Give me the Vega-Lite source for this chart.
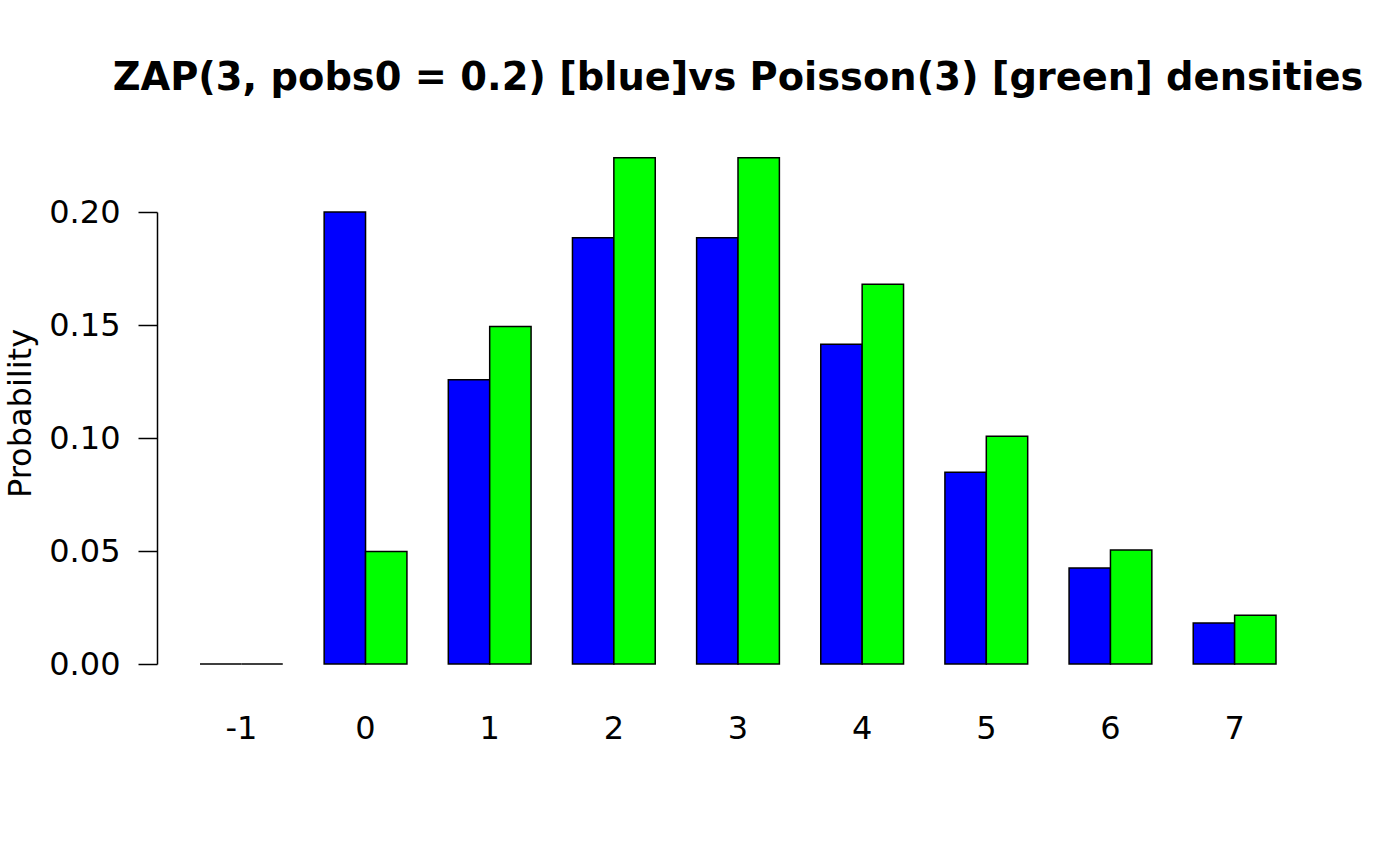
{
  "$schema": "https://vega.github.io/schema/vega-lite/v6.json",
  "autosize": "none",
  "width": 1076,
  "height": 452,
  "padding": {"left": 200, "top": 212, "right": 124, "bottom": 202},
  "background": "white",
  "config": {"view": {"stroke": null}, "font": "DejaVu Sans"},
  "title": {
    "text": "ZAP(3, pobs0 = 0.2) [blue]vs Poisson(3) [green] densities",
    "fontSize": 38.4,
    "fontWeight": "bold",
    "font": "DejaVu Sans",
    "color": "black",
    "frame": "group",
    "anchor": "middle",
    "baseline": "alphabetic",
    "offset": 29
  },
  "data": {
    "values": [
      {"k": "-1", "series": "ZAP", "p": 0},
      {"k": "-1", "series": "Poisson", "p": 0},
      {"k": "0", "series": "ZAP", "p": 0.2},
      {"k": "0", "series": "Poisson", "p": 0.049787},
      {"k": "1", "series": "ZAP", "p": 0.12575},
      {"k": "1", "series": "Poisson", "p": 0.149361},
      {"k": "2", "series": "ZAP", "p": 0.18863},
      {"k": "2", "series": "Poisson", "p": 0.224042},
      {"k": "3", "series": "ZAP", "p": 0.18863},
      {"k": "3", "series": "Poisson", "p": 0.224042},
      {"k": "4", "series": "ZAP", "p": 0.14147},
      {"k": "4", "series": "Poisson", "p": 0.168031},
      {"k": "5", "series": "ZAP", "p": 0.08488},
      {"k": "5", "series": "Poisson", "p": 0.100819},
      {"k": "6", "series": "ZAP", "p": 0.04244},
      {"k": "6", "series": "Poisson", "p": 0.050409},
      {"k": "7", "series": "ZAP", "p": 0.01819},
      {"k": "7", "series": "Poisson", "p": 0.021604}
    ]
  },
  "mark": {"type": "bar", "stroke": "black", "strokeWidth": 1.5, "opacity": 1},
  "encoding": {
    "x": {
      "field": "k",
      "type": "ordinal",
      "sort": ["-1", "0", "1", "2", "3", "4", "5", "6", "7"],
      "scale": {"paddingInner": 0.3333, "paddingOuter": 0},
      "axis": {
        "title": null,
        "domain": false,
        "ticks": false,
        "labelAngle": 0,
        "labelFontSize": 32,
        "labelColor": "black",
        "labelPadding": 49,
        "labelBaseline": "top"
      }
    },
    "xOffset": {
      "field": "series",
      "type": "nominal",
      "sort": ["ZAP", "Poisson"],
      "scale": {"paddingInner": 0, "paddingOuter": 0}
    },
    "y": {
      "field": "p",
      "type": "quantitative",
      "scale": {"domain": [0, 0.2], "nice": false, "zero": true},
      "axis": {
        "title": "Probability",
        "titleFontSize": 32,
        "titleFontWeight": "normal",
        "titleColor": "black",
        "titleAngle": -90,
        "titleX": -127,
        "titleY": 201,
        "titleAlign": "center",
        "titleBaseline": "alphabetic",
        "values": [0, 0.05, 0.1, 0.15, 0.2],
        "format": ".2f",
        "labelFontSize": 32,
        "labelColor": "black",
        "labelBaseline": "middle",
        "labelPadding": 18,
        "tickSize": 19,
        "tickColor": "black",
        "tickWidth": 1.5,
        "domainColor": "black",
        "domainWidth": 1.5,
        "offset": 43,
        "grid": false
      }
    },
    "color": {
      "field": "series",
      "type": "nominal",
      "scale": {"domain": ["ZAP", "Poisson"], "range": ["#0000ff", "#00ff00"]},
      "legend": null
    }
  }
}
